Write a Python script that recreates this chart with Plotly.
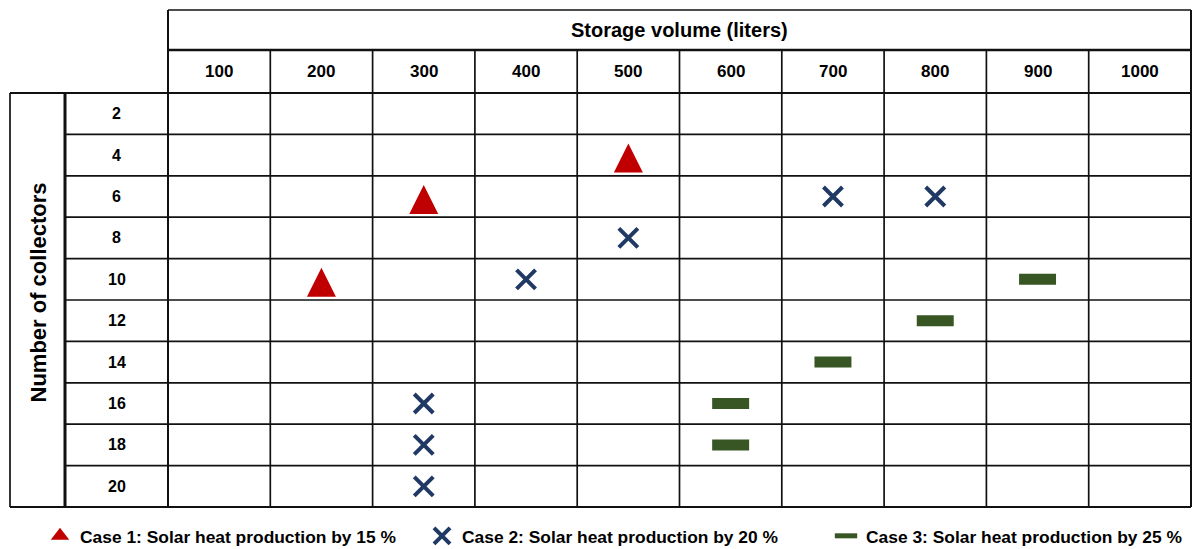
import plotly.graph_objects as go

# ---------------- data ----------------
storage = [100, 200, 300, 400, 500, 600, 700, 800, 900, 1000]
collectors = [2, 4, 6, 8, 10, 12, 14, 16, 18, 20]

case1_storage = [500, 300, 200]
case1_collectors = [4, 6, 10]

case2_storage = [700, 800, 500, 400, 300, 300, 300]
case2_collectors = [6, 6, 8, 10, 16, 18, 20]

case3_storage = [900, 800, 700, 600, 600]
case3_collectors = [10, 12, 14, 16, 18]

x_title = "Storage volume (liters)"
y_title = "Number of collectors"
case_names = ["Case 1: Solar heat production by 15 %",
              "Case 2: Solar heat production by 20 %",
              "Case 3: Solar heat production by 25 %"]

# ---------------- layout constants (pixels) ----------------
W, H = 1192, 549
GX0, GX1 = 168, 1191      # grid left / right
GY0, GY1 = 93, 507        # body rows top / bottom
HY, TY = 50, 10           # column-header top, title-box top
LX0, LX1 = 10, 65         # label box left, row-label column left
FONT = "Liberation Sans, Arial, sans-serif"
RED, NAVY, GREEN = "#C00000", "#203864", "#375623"

nx, ny = len(storage), len(collectors)
xstep = storage[1] - storage[0]
ystep = collectors[1] - collectors[0]
cw = (GX1 - GX0) / nx
rh = (GY1 - GY0) / ny


def vx(px):  # pixel -> storage value
    return storage[0] + ((px - GX0) / cw - 0.5) * xstep


def cy(py):  # pixel -> collectors value
    return collectors[0] + ((py - GY0) / rh - 0.5) * ystep


fig = go.Figure()

# upward triangle: an 'arrow-down' rotated by 180 deg, pushed by standoff so it sits centred
fig.add_trace(go.Scatter(
    x=case1_storage, y=case1_collectors, mode="markers", name=case_names[0],
    marker=dict(symbol="arrow-down", angle=180, size=29, standoff=11.5, color=RED,
                line=dict(width=0, color=RED)),
    legendgroup="c1", showlegend=False, legend="legend"))
# legend entry for case 1 (no points of its own)
fig.add_trace(go.Scatter(
    x=[None], y=[None], mode="markers", name=case_names[0],
    marker=dict(symbol="triangle-up", size=16, color=RED),
    legendgroup="c1", showlegend=True, legend="legend"))
fig.add_trace(go.Scatter(
    x=case2_storage, y=case2_collectors, mode="markers", name=case_names[1],
    marker=dict(symbol="x-thin", size=19, color=NAVY,
                line=dict(width=4, color=NAVY)),
    legend="legend2"))
fig.add_trace(go.Scatter(
    x=case3_storage, y=case3_collectors, mode="markers", name=case_names[2],
    marker=dict(symbol="line-ew", size=26.4, color=GREEN,
                line=dict(width=11, color=GREEN)),
    legend="legend3"))

# ---------------- table lines ----------------
shapes = []
LC = "#111111"


def seg(x0, y0, x1, y1, w=1.6, c=LC):
    shapes.append(dict(type="line", xref="x", yref="y", x0=x0, y0=y0, x1=x1, y1=y1,
                       line=dict(color=c, width=w), layer="below"))


edges_x = [s - xstep / 2 for s in storage] + [storage[-1] + xstep / 2]
edges_y = [c - ystep / 2 for c in collectors] + [collectors[-1] + ystep / 2]

# vertical column lines (header row + body)
for i, ex in enumerate(edges_x):
    top = cy(TY) if i in (0, nx) else cy(HY)
    seg(ex, top, ex, edges_y[-1], w=2 if i in (0, nx) else 1.7)
# horizontal row lines (from row-label column)
for j, ey in enumerate(edges_y):
    x_start = vx(LX0) if j in (0, ny) else vx(LX1)
    seg(x_start, ey, edges_x[-1], ey, w=2 if j in (0, ny) else 1.7)
# header lines
seg(edges_x[0], cy(TY), edges_x[-1], cy(TY), w=1.7)
seg(edges_x[0], cy(HY), edges_x[-1], cy(HY), w=2.6)
# label box
seg(vx(LX0), edges_y[0], vx(LX0), edges_y[-1], w=1.7)
seg(vx(LX1), edges_y[0], vx(LX1), edges_y[-1], w=3)

# ---------------- texts ----------------
ann = []
ann.append(dict(x=(edges_x[0] + edges_x[-1]) / 2, y=cy((TY + HY) / 2), xref="x", yref="y",
                text="<b>%s</b>" % x_title, showarrow=False,
                font=dict(family=FONT, size=20, color="black")))
for s in storage:
    ann.append(dict(x=s, y=cy((HY + GY0) / 2), xref="x", yref="y", text="<b>%d</b>" % s,
                    showarrow=False, font=dict(family=FONT, size=17, color="black")))
for c in collectors:
    ann.append(dict(x=vx((LX1 + GX0) / 2), y=c, xref="x", yref="y", text="<b>%d</b>" % c,
                    showarrow=False, font=dict(family=FONT, size=16, color="black")))
ann.append(dict(x=vx((LX0 + LX1) / 2), y=cy(293), xref="x", yref="y",
                text="<b>%s</b>" % y_title, showarrow=False, textangle=-90,
                font=dict(family=FONT, size=22, color="black")))

leg_common = dict(orientation="h", yanchor="middle", y=1 - 536 / H, xanchor="left",
                  font=dict(family=FONT, size=17.4, color="black", weight="bold"),
                  bgcolor="rgba(0,0,0,0)", borderwidth=0)

fig.update_layout(
    width=W, height=H, margin=dict(l=0, r=0, t=0, b=0, autoexpand=False),
    paper_bgcolor="white", plot_bgcolor="white",
    xaxis=dict(range=[vx(0), vx(W)], visible=False, fixedrange=True),
    yaxis=dict(range=[cy(H), cy(0)], visible=False, fixedrange=True),
    shapes=shapes, annotations=ann, showlegend=True,
    legend=dict(x=(82 - 42) / W, **leg_common),
    legend2=dict(x=(464 - 42) / W, **leg_common),
    legend3=dict(x=(868 - 42) / W, **leg_common),
    font=dict(family=FONT),
)
fig.update_traces(cliponaxis=False)

fig.write_html("out.html", config={"displayModeBar": False},
               post_script="document.body.style.margin='0';")
